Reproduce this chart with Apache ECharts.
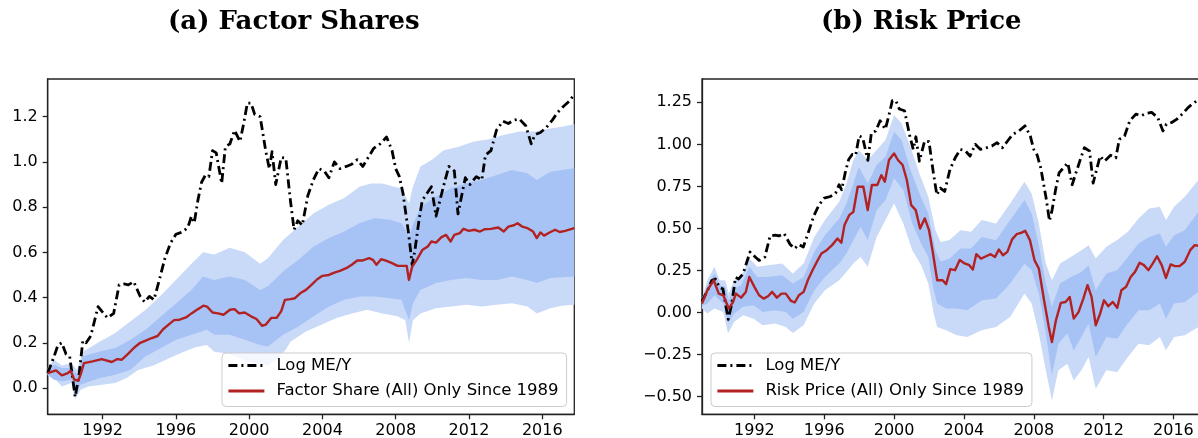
<!DOCTYPE html>
<html>
<head>
<meta charset="utf-8">
<script src="https://cdn.jsdelivr.net/npm/echarts@6/dist/echarts.min.js"></script>
<style>
  html, body { margin: 0; padding: 0; background: #fff; }
  #chart { width: 1198px; height: 438px; }
</style>
</head>
<body>
<div id="chart"></div>
<script>
// 刻度
const xTicks = [1992, 1996, 2000, 2004, 2008, 2012, 2016]
const fsTicks = [0, 0.2, 0.4, 0.6, 0.8, 1.0, 1.2]
const rpTicks = [-0.5, -0.25, 0, 0.25, 0.5, 0.75, 1.0, 1.25]

// Log ME/Y (两图相同)
const logMEY = [[1989.0,0.066],[1989.35,0.14],[1989.56,0.19],[1989.77,0.20],[1990.0,0.15],[1990.2,0.14],[1990.3,0.14],[1990.5,-0.04],[1990.7,0.05],[1990.92,0.21],[1991.1,0.20],[1991.35,0.23],[1991.75,0.36],[1991.95,0.34],[1992.27,0.31],[1992.6,0.33],[1992.9,0.456],[1993.2,0.46],[1993.4,0.456],[1993.7,0.47],[1994.05,0.405],[1994.3,0.38],[1994.55,0.405],[1994.8,0.39],[1995.1,0.48],[1995.4,0.574],[1995.7,0.64],[1996.0,0.68],[1996.35,0.69],[1996.65,0.71],[1996.85,0.76],[1997.0,0.73],[1997.2,0.83],[1997.4,0.91],[1997.6,0.94],[1997.8,0.935],[1998.0,1.05],[1998.2,1.04],[1998.5,0.905],[1998.7,1.067],[1998.95,1.08],[1999.2,1.14],[1999.5,1.09],[1999.7,1.17],[1999.9,1.26],[2000.1,1.26],[2000.3,1.21],[2000.6,1.2],[2000.9,1.05],[2001.1,0.97],[2001.25,1.045],[2001.45,0.90],[2001.75,1.02],[2002.0,1.016],[2002.25,0.83],[2002.45,0.70],[2002.65,0.74],[2002.9,0.72],[2003.2,0.85],[2003.5,0.92],[2003.8,0.97],[2004.1,0.96],[2004.35,0.93],[2004.65,1.0],[2004.95,0.97],[2005.3,0.98],[2005.6,0.99],[2005.9,1.01],[2006.2,0.98],[2006.5,1.02],[2006.8,1.06],[2007.15,1.08],[2007.5,1.11],[2007.8,1.05],[2008.0,0.97],[2008.2,0.935],[2008.4,0.86],[2008.7,0.685],[2008.9,0.545],[2009.05,0.61],[2009.25,0.73],[2009.45,0.83],[2009.7,0.86],[2009.95,0.89],[2010.2,0.76],[2010.4,0.825],[2010.65,0.905],[2010.9,0.98],[2011.2,0.96],[2011.4,0.77],[2011.6,0.85],[2011.8,0.93],[2012.05,0.90],[2012.4,0.935],[2012.7,0.92],[2012.9,1.03],[2013.2,1.05],[2013.5,1.14],[2013.85,1.18],[2014.15,1.17],[2014.45,1.185],[2014.75,1.19],[2015.1,1.16],[2015.4,1.08],[2015.6,1.12],[2015.9,1.13],[2016.2,1.15],[2016.55,1.185],[2016.85,1.22],[2017.15,1.245],[2017.5,1.27],[2017.75,1.30]]

// (a) Factor Share
const factorShare = [[1989.0,0.066],[1989.45,0.078],[1989.77,0.056],[1990.1,0.066],[1990.25,0.077],[1990.45,0.037],[1990.67,0.032],[1990.8,0.06],[1990.98,0.11],[1991.45,0.118],[1991.95,0.128],[1992.5,0.115],[1992.8,0.128],[1993.05,0.125],[1993.4,0.152],[1993.7,0.177],[1994.05,0.2],[1994.35,0.21],[1994.65,0.22],[1995.0,0.23],[1995.3,0.26],[1995.6,0.28],[1995.9,0.30],[1996.2,0.302],[1996.55,0.312],[1996.85,0.33],[1997.15,0.346],[1997.5,0.364],[1997.7,0.36],[1998.0,0.334],[1998.3,0.33],[1998.6,0.324],[1998.95,0.346],[1999.2,0.349],[1999.45,0.33],[1999.75,0.334],[2000.1,0.317],[2000.4,0.305],[2000.7,0.275],[2000.9,0.28],[2001.2,0.31],[2001.5,0.31],[2001.75,0.34],[2001.95,0.39],[2002.25,0.393],[2002.5,0.397],[2002.8,0.42],[2003.1,0.434],[2003.4,0.456],[2003.7,0.48],[2004.0,0.496],[2004.35,0.5],[2004.65,0.51],[2004.95,0.518],[2005.3,0.53],[2005.6,0.545],[2005.9,0.564],[2006.2,0.564],[2006.55,0.574],[2006.75,0.567],[2006.95,0.545],[2007.2,0.57],[2007.5,0.562],[2007.8,0.552],[2008.1,0.54],[2008.4,0.54],[2008.6,0.54],[2008.72,0.478],[2008.9,0.537],[2009.15,0.567],[2009.45,0.61],[2009.75,0.626],[2009.95,0.648],[2010.2,0.643],[2010.5,0.667],[2010.75,0.677],[2011.0,0.648],[2011.2,0.677],[2011.5,0.685],[2011.7,0.704],[2012.0,0.695],[2012.3,0.70],[2012.6,0.692],[2012.85,0.702],[2013.2,0.704],[2013.6,0.71],[2013.9,0.692],[2014.15,0.714],[2014.45,0.72],[2014.65,0.729],[2014.9,0.714],[2015.2,0.707],[2015.5,0.692],[2015.7,0.663],[2015.9,0.688],[2016.1,0.674],[2016.4,0.688],[2016.7,0.70],[2016.95,0.69],[2017.25,0.695],[2017.75,0.707]]
const fsOuterUpper = [[1989.0,0.09],[1989.35,0.125],[1989.77,0.10],[1990.29,0.11],[1990.6,0.08],[1990.92,0.16],[1991.85,0.206],[1992.69,0.243],[1993.52,0.295],[1994.35,0.346],[1995.19,0.41],[1996.02,0.48],[1996.85,0.55],[1997.48,0.60],[1998.1,0.59],[1998.94,0.62],[1999.77,0.60],[2000.6,0.55],[2001.02,0.574],[2001.85,0.655],[2002.69,0.714],[2003.52,0.773],[2004.35,0.81],[2005.19,0.84],[2006.02,0.89],[2006.65,0.905],[2007.27,0.905],[2007.9,0.89],[2008.31,0.883],[2008.73,0.817],[2008.94,0.89],[2009.35,0.98],[2009.98,1.01],[2010.6,1.05],[2011.44,1.067],[2012.27,1.09],[2013.1,1.10],[2013.94,1.12],[2014.77,1.134],[2015.6,1.134],[2016.44,1.148],[2017.06,1.155],[2017.75,1.167]]
const fsOuterLower = [[1989.0,0.055],[1989.35,0.044],[1989.77,0.007],[1990.29,0.022],[1990.5,-0.05],[1990.81,-0.007],[1991.23,0.007],[1992.06,0.015],[1992.69,0.022],[1993.31,0.044],[1993.94,0.08],[1994.77,0.10],[1995.6,0.13],[1996.44,0.16],[1997.06,0.18],[1997.69,0.19],[1998.1,0.16],[1998.94,0.15],[1999.77,0.12],[2000.6,0.105],[2001.02,0.10],[2001.44,0.12],[2002.0,0.17],[2002.27,0.206],[2003.1,0.25],[2003.94,0.28],[2004.77,0.31],[2005.6,0.33],[2006.44,0.346],[2007.27,0.33],[2008.1,0.317],[2008.52,0.30],[2008.73,0.20],[2008.94,0.30],[2009.35,0.33],[2010.19,0.353],[2011.02,0.36],[2011.85,0.368],[2012.69,0.36],[2013.52,0.368],[2014.35,0.375],[2015.19,0.36],[2015.71,0.33],[2016.44,0.353],[2017.06,0.364],[2017.75,0.368]]
const fsInnerUpper = [[1989.0,0.08],[1989.35,0.103],[1989.77,0.088],[1990.29,0.088],[1990.6,0.06],[1990.92,0.14],[1991.85,0.162],[1992.69,0.177],[1993.52,0.213],[1994.35,0.258],[1995.19,0.317],[1996.02,0.375],[1996.85,0.434],[1997.48,0.493],[1998.1,0.478],[1998.94,0.493],[1999.77,0.478],[2000.6,0.434],[2001.02,0.45],[2001.85,0.515],[2002.69,0.567],[2003.52,0.626],[2004.35,0.663],[2005.19,0.692],[2006.02,0.729],[2006.85,0.751],[2007.69,0.744],[2008.31,0.729],[2008.73,0.67],[2008.94,0.722],[2009.35,0.80],[2010.19,0.847],[2011.02,0.883],[2011.85,0.905],[2012.69,0.92],[2013.52,0.942],[2014.35,0.964],[2015.19,0.95],[2015.71,0.92],[2016.44,0.957],[2017.75,0.972]]
const fsInnerLower = [[1989.0,0.058],[1989.35,0.037],[1989.77,0.03],[1990.29,0.037],[1990.5,-0.015],[1990.81,0.015],[1991.85,0.044],[1992.69,0.059],[1993.52,0.081],[1994.35,0.14],[1995.19,0.177],[1996.02,0.213],[1996.85,0.236],[1997.69,0.258],[1998.1,0.236],[1998.94,0.236],[1999.77,0.213],[2000.6,0.19],[2001.02,0.184],[2001.85,0.236],[2002.69,0.272],[2003.52,0.317],[2004.35,0.36],[2005.19,0.39],[2006.02,0.405],[2006.85,0.405],[2007.69,0.397],[2008.31,0.39],[2008.73,0.30],[2008.94,0.375],[2009.35,0.434],[2010.19,0.464],[2011.02,0.478],[2011.85,0.486],[2012.69,0.478],[2013.52,0.478],[2014.35,0.493],[2015.19,0.478],[2015.71,0.464],[2016.44,0.486],[2017.75,0.493]]

// (b) Risk Price
const riskPrice = [[1989.0,0.054],[1989.31,0.133],[1989.67,0.192],[1989.96,0.113],[1990.22,0.103],[1990.53,0.024],[1990.78,0.063],[1990.94,0.113],[1991.24,0.089],[1991.51,0.123],[1991.71,0.212],[1992.0,0.153],[1992.27,0.103],[1992.53,0.083],[1992.78,0.097],[1993.02,0.123],[1993.29,0.089],[1993.55,0.113],[1993.8,0.113],[1994.1,0.069],[1994.31,0.06],[1994.55,0.103],[1994.82,0.123],[1995.06,0.192],[1995.33,0.252],[1995.63,0.312],[1995.84,0.351],[1996.14,0.371],[1996.45,0.401],[1996.76,0.44],[1996.98,0.415],[1997.16,0.52],[1997.43,0.579],[1997.67,0.599],[1997.92,0.748],[1998.24,0.748],[1998.49,0.609],[1998.73,0.758],[1999.04,0.758],[1999.27,0.817],[1999.47,0.778],[1999.71,0.907],[2000.0,0.946],[2000.22,0.907],[2000.49,0.877],[2000.73,0.788],[2000.98,0.639],[2001.24,0.609],[2001.49,0.5],[2001.76,0.56],[2002.0,0.49],[2002.2,0.371],[2002.47,0.192],[2002.78,0.192],[2002.98,0.169],[2003.22,0.258],[2003.49,0.252],[2003.76,0.312],[2004.04,0.292],[2004.31,0.282],[2004.51,0.256],[2004.71,0.347],[2004.98,0.321],[2005.27,0.335],[2005.53,0.347],[2005.78,0.331],[2006.0,0.375],[2006.24,0.341],[2006.49,0.361],[2006.76,0.435],[2007.02,0.466],[2007.27,0.474],[2007.51,0.486],[2007.78,0.431],[2008.04,0.312],[2008.29,0.262],[2008.59,0.073],[2008.86,-0.085],[2009.04,-0.175],[2009.27,-0.046],[2009.55,0.058],[2009.82,0.063],[2010.06,0.093],[2010.29,-0.036],[2010.57,0.004],[2010.84,0.083],[2011.08,0.163],[2011.31,0.093],[2011.55,-0.075],[2011.8,-0.006],[2012.02,0.073],[2012.27,0.038],[2012.53,0.063],[2012.78,0.028],[2013.02,0.133],[2013.29,0.153],[2013.55,0.212],[2013.8,0.242],[2014.06,0.296],[2014.31,0.282],[2014.57,0.252],[2014.82,0.292],[2015.06,0.335],[2015.33,0.282],[2015.57,0.206],[2015.84,0.286],[2016.08,0.276],[2016.35,0.276],[2016.65,0.302],[2016.96,0.371],[2017.22,0.401],[2017.43,0.397],[2017.75,0.40]]
const rpOuterUpper = [[1989.0,0.083],[1989.31,0.192],[1989.71,0.272],[1990.02,0.192],[1990.33,0.19],[1990.53,0.113],[1990.84,0.192],[1991.24,0.212],[1991.71,0.321],[1992.16,0.272],[1992.78,0.282],[1993.59,0.292],[1994.2,0.232],[1994.82,0.292],[1995.43,0.45],[1996.04,0.55],[1996.86,0.659],[1997.27,0.768],[1997.67,0.907],[1997.98,0.966],[1998.49,0.907],[1999.0,0.966],[1999.51,1.026],[2000.0,1.175],[2000.43,1.125],[2000.94,0.986],[2001.45,0.827],[2001.96,0.688],[2002.37,0.49],[2002.67,0.42],[2003.18,0.431],[2003.8,0.49],[2004.41,0.48],[2005.02,0.55],[2005.84,0.53],[2006.65,0.649],[2007.47,0.778],[2007.88,0.708],[2008.29,0.53],[2008.69,0.292],[2009.04,0.192],[2009.51,0.292],[2010.12,0.331],[2010.73,0.371],[2011.14,0.401],[2011.55,0.321],[2012.16,0.391],[2012.78,0.431],[2013.39,0.48],[2014.0,0.56],[2014.61,0.619],[2015.22,0.629],[2015.57,0.55],[2016.04,0.629],[2016.65,0.688],[2017.43,0.788],[2017.75,0.80]]
const rpOuterLower = [[1989.0,0.024],[1989.31,-0.006],[1989.71,0.024],[1990.22,0.004],[1990.49,-0.125],[1990.84,-0.056],[1991.35,-0.016],[1991.96,-0.036],[1992.47,-0.075],[1993.18,-0.065],[1993.8,-0.085],[1994.2,-0.121],[1994.82,-0.075],[1995.43,0.054],[1996.04,0.133],[1996.86,0.192],[1997.27,0.242],[1997.67,0.292],[1998.08,0.331],[1998.49,0.272],[1999.0,0.45],[1999.51,0.55],[2000.0,0.649],[2000.53,0.53],[2001.04,0.371],[2001.55,0.282],[2001.96,0.173],[2002.27,-0.006],[2002.47,-0.085],[2002.98,-0.105],[2003.59,-0.135],[2004.2,-0.145],[2005.02,-0.105],[2005.84,-0.085],[2006.65,-0.026],[2007.47,0.113],[2007.88,0.054],[2008.29,-0.125],[2008.69,-0.343],[2009.04,-0.522],[2009.41,-0.343],[2009.92,-0.304],[2010.29,-0.403],[2010.73,-0.343],[2011.14,-0.264],[2011.55,-0.452],[2012.16,-0.343],[2012.78,-0.353],[2013.39,-0.264],[2014.0,-0.185],[2014.61,-0.194],[2015.22,-0.145],[2015.57,-0.224],[2016.04,-0.145],[2016.65,-0.135],[2017.43,-0.085],[2017.75,-0.07]]
const rpInnerUpper = [[1989.0,0.07],[1989.31,0.163],[1989.71,0.232],[1990.02,0.163],[1990.33,0.153],[1990.53,0.073],[1990.84,0.143],[1991.24,0.163],[1991.71,0.272],[1992.16,0.212],[1992.78,0.212],[1993.59,0.222],[1994.2,0.173],[1994.82,0.212],[1995.43,0.361],[1996.04,0.46],[1996.86,0.56],[1997.27,0.649],[1997.67,0.768],[1997.98,0.867],[1998.49,0.768],[1999.0,0.877],[1999.51,0.927],[2000.0,1.075],[2000.43,1.026],[2000.94,0.847],[2001.45,0.708],[2001.96,0.589],[2002.37,0.371],[2002.67,0.302],[2003.18,0.321],[2003.8,0.381],[2004.41,0.381],[2005.02,0.45],[2005.84,0.43],[2006.65,0.55],[2007.47,0.669],[2007.88,0.589],[2008.29,0.401],[2008.69,0.173],[2009.04,0.034],[2009.51,0.173],[2010.12,0.212],[2010.73,0.242],[2011.14,0.282],[2011.55,0.133],[2012.16,0.232],[2012.78,0.252],[2013.39,0.331],[2014.0,0.411],[2014.61,0.45],[2015.22,0.47],[2015.57,0.391],[2016.04,0.46],[2016.65,0.49],[2017.43,0.599],[2017.75,0.61]]
const rpInnerLower = [[1989.0,0.04],[1989.31,0.054],[1989.71,0.103],[1990.22,0.054],[1990.49,-0.065],[1990.84,-0.006],[1991.35,0.034],[1991.96,0.044],[1992.47,0.004],[1993.18,0.014],[1993.8,0.004],[1994.2,-0.036],[1994.82,0.004],[1995.43,0.133],[1996.04,0.212],[1996.86,0.292],[1997.27,0.351],[1997.67,0.43],[1998.08,0.51],[1998.49,0.43],[1999.0,0.609],[1999.51,0.669],[2000.0,0.798],[2000.53,0.728],[2001.04,0.53],[2001.55,0.411],[2001.96,0.331],[2002.27,0.133],[2002.47,0.054],[2002.98,0.024],[2003.59,0.024],[2004.2,0.014],[2005.02,0.073],[2005.84,0.083],[2006.65,0.173],[2007.47,0.292],[2007.88,0.252],[2008.29,0.113],[2008.69,-0.125],[2009.04,-0.373],[2009.41,-0.185],[2009.92,-0.125],[2010.29,-0.224],[2010.73,-0.145],[2011.14,-0.065],[2011.55,-0.264],[2012.16,-0.145],[2012.78,-0.155],[2013.39,-0.065],[2014.0,0.014],[2014.61,0.014],[2015.22,0.054],[2015.57,-0.036],[2016.04,0.054],[2016.65,0.063],[2017.43,0.123],[2017.75,0.13]]

const chart = echarts.init(document.getElementById('chart'), null, { renderer: 'canvas' })

const AXIS_COLOR = '#222'
const OUTER_BLUE = '#c9daf8'
const INNER_BLUE = '#a7c2f4'
const RED = '#b22222'
const ME_DASH = [9, 4, 2, 4]

// 置信带 (多边形)
const bandSeries = (name, upper, lower, color, idx) => ({
  type: 'custom',
  name,
  xAxisIndex: idx,
  yAxisIndex: idx,
  clip: true,
  silent: true,
  z: 1,
  data: upper,
  encode: { x: 0, y: 1 },
  renderItem: (params, api) => {
    if (params.dataIndex !== 0) return null
    const pts = upper.concat(lower.slice().reverse()).map(p => api.coord(p))
    return { type: 'polygon', shape: { points: pts }, style: { fill: color } }
  }
})

const lineSeries = (name, data, color, width, dash, idx, z) => ({
  type: 'line',
  name,
  data,
  xAxisIndex: idx,
  yAxisIndex: idx,
  symbol: 'none',
  clip: true,
  z,
  itemStyle: { color },
  lineStyle: { color, width, type: dash, cap: 'butt', join: 'round' }
})

const xAxisOf = (gridIndex) => ({
  type: 'value',
  gridIndex,
  min: 1989,
  max: 2017.75,
  splitLine: { show: false },
  axisLine: { show: true, onZero: false, lineStyle: { color: AXIS_COLOR, width: 1.3 } },
  axisTick: { show: true, customValues: xTicks, length: 5, lineStyle: { color: AXIS_COLOR, width: 1.3 } },
  axisLabel: {
    customValues: xTicks,
    color: '#000', fontSize: 16, fontFamily: 'DejaVu Sans', margin: 9,
    formatter: v => String(v)
  }
})

const yAxisOf = (gridIndex, min, max, ticks, fmt) => ({
  type: 'value',
  gridIndex,
  min,
  max,
  splitLine: { show: false },
  axisLine: { show: true, onZero: false, lineStyle: { color: AXIS_COLOR, width: 1.3 } },
  axisTick: { show: true, customValues: ticks, length: 5, lineStyle: { color: AXIS_COLOR, width: 1.3 } },
  axisLabel: {
    customValues: ticks,
    color: '#000', fontSize: 16, fontFamily: 'DejaVu Sans', margin: 10,
    formatter: fmt
  }
})

const fmtSigned = (v) => (v < 0 ? '\u2212' : '') + Math.abs(v).toFixed(2)

const legendOf = (left, names) => ({
  orient: 'vertical',
  left,
  top: 353,
  data: names,
  selectedMode: false,
  itemWidth: 36,
  itemHeight: 14,
  itemGap: 8.5,
  padding: [4, 8, 7, 5],
  backgroundColor: 'rgba(255,255,255,0.8)',
  borderColor: '#cccccc',
  borderWidth: 1,
  borderRadius: 4,
  // 图例只画线, 不画圆点
  itemStyle: { color: 'rgba(0,0,0,0)', borderWidth: 0 },
  lineStyle: { width: 2.8 },
  textStyle: { color: '#000', fontSize: 16.5, fontFamily: 'DejaVu Sans', padding: [0, 0, 0, 7] }
})

const titleStyle = { color: '#000', fontSize: 26, fontWeight: 'bold', fontFamily: 'DejaVu Serif' }

let option = {
  animation: false,
  backgroundColor: '#fff',
  title: [
    { text: '(a) Factor Shares', left: 168, top: 9, padding: 0, textStyle: titleStyle },
    { text: '(b) Risk Price', left: 821, top: 9, padding: 0, textStyle: titleStyle }
  ],
  legend: [
    legendOf(222, ['Log ME/Y', 'Factor Share (All) Only Since 1989']),
    legendOf(711, ['Log ME/Y', 'Risk Price (All) Only Since 1989'])
  ],
  grid: [
    { left: 47.7, top: 79, width: 526.6, height: 335.3, show: true, borderColor: AXIS_COLOR, borderWidth: 1.3, outerBoundsMode: 'none' },
    { left: 702, top: 79, width: 502, height: 335.3, show: true, borderColor: AXIS_COLOR, borderWidth: 1.3, outerBoundsMode: 'none' }
  ],
  xAxis: [xAxisOf(0), xAxisOf(1)],
  yAxis: [
    yAxisOf(0, -0.1163, 1.3667, fsTicks, v => v.toFixed(1)),
    yAxisOf(1, -0.6046, 1.3885, rpTicks, fmtSigned)
  ],
  series: [
    bandSeries('fs outer', fsOuterUpper, fsOuterLower, OUTER_BLUE, 0),
    bandSeries('fs inner', fsInnerUpper, fsInnerLower, INNER_BLUE, 0),
    lineSeries('Log ME/Y', logMEY, '#000', 2.8, ME_DASH, 0, 3),
    lineSeries('Factor Share (All) Only Since 1989', factorShare, RED, 2.4, 'solid', 0, 4),
    bandSeries('rp outer', rpOuterUpper, rpOuterLower, OUTER_BLUE, 1),
    bandSeries('rp inner', rpInnerUpper, rpInnerLower, INNER_BLUE, 1),
    lineSeries('Log ME/Y', logMEY, '#000', 2.8, ME_DASH, 1, 3),
    lineSeries('Risk Price (All) Only Since 1989', riskPrice, RED, 2.4, 'solid', 1, 4)
  ]
}

chart.setOption(option)
</script>
</body>
</html>
